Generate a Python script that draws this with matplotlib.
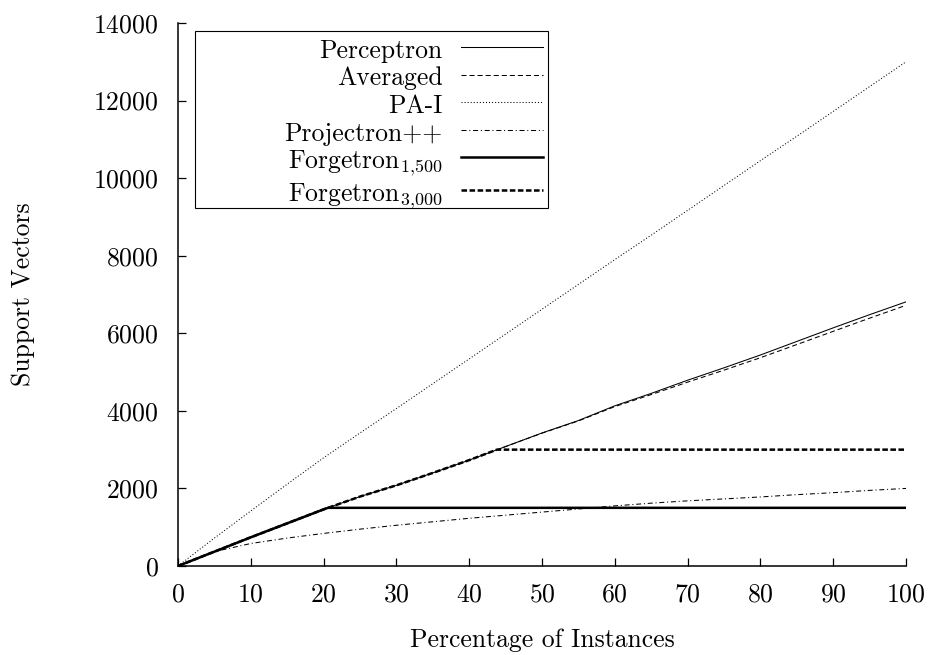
import matplotlib
matplotlib.use("Agg")
import matplotlib.pyplot as plt
from matplotlib.patches import Rectangle

plt.rcParams['font.family'] = 'serif'
plt.rcParams['font.serif'] = ['cmr10']
plt.rcParams['mathtext.fontset'] = 'cm'
plt.rcParams['axes.formatter.use_mathtext'] = True
plt.rcParams['lines.scale_dashes'] = False

# ---- data ----
pct = [0, 5, 10, 15, 20, 25, 30, 35, 40, 45, 50, 55, 60, 65, 70, 75, 80, 85, 90, 95, 100]
perceptron = [0, 370, 740, 1100, 1460, 1790, 2080, 2400, 2730, 3080, 3430, 3750, 4130, 4450,
              4790, 5110, 5440, 5790, 6140, 6480, 6810]
averaged = [0, 370, 740, 1100, 1460, 1790, 2080, 2400, 2730, 3080, 3425, 3740, 4110, 4420,
            4740, 5050, 5370, 5710, 6050, 6390, 6720]
pa_i = [0, 720, 1420, 2110, 2790, 3430, 4060, 4700, 5340, 5980, 6620, 7260, 7900, 8530,
        9170, 9810, 10450, 11080, 11720, 12360, 13000]
projectron = [0, 370, 580, 720, 840, 950, 1050, 1140, 1230, 1310, 1390, 1470, 1550, 1620,
              1680, 1730, 1780, 1840, 1890, 1950, 2000]
forg1500_x = [0, 5, 10, 15, 20, 20.6, 100]
forg1500 = [0, 370, 740, 1100, 1460, 1500, 1500]
forg3000_x = [0, 5, 10, 15, 20, 25, 30, 35, 40, 43.8, 100]
forg3000 = [0, 370, 740, 1100, 1460, 1790, 2080, 2400, 2730, 3000, 3000]

labels = ['Perceptron', 'Averaged', 'PA-I', 'Projectron++',
          r'Forgetron$_{1{,}500}$', r'Forgetron$_{3{,}000}$']
xticks = list(range(0, 101, 10))
yticks = list(range(0, 14001, 2000))

fig = plt.figure(figsize=(9.35, 6.55), dpi=100)
ax = fig.add_axes([178/935, 1-566/655, (906-178)/935, (566-23)/655])

ax.plot(pct, perceptron, color='black', lw=0.75, label=labels[0])
ax.plot(pct, averaged, color='black', lw=0.75, dashes=(3.6, 2.2), label=labels[1])
ax.plot(pct, pa_i, color='black', lw=0.75, dashes=(0.75, 1.45), label=labels[2])
ax.plot(pct, projectron, color='black', lw=0.75, dashes=(3.6, 2.0, 0.75, 2.0), label=labels[3])
ax.plot(forg1500_x, forg1500, color='black', lw=1.8, label=labels[4])
ax.plot(forg3000_x, forg3000, color='black', lw=1.8, dashes=(4.0, 1.8), label=labels[5])

ax.set_xlim(0, 100)
ax.set_ylim(0, 14000)
ax.set_xticks(xticks)
ax.set_yticks(yticks)
ax.spines['top'].set_visible(False)
ax.spines['right'].set_visible(False)
ax.spines['left'].set_linewidth(1.1)
ax.spines['bottom'].set_linewidth(1.1)
ax.tick_params(direction='in', length=6, width=0.9, labelsize=18.5)
ax.tick_params(axis='y', pad=14)
ax.tick_params(axis='x', pad=12)

ax.set_xlabel('Percentage of Instances', fontsize=18.5, labelpad=16)
ax.set_ylabel('Support Vectors', fontsize=18.5, labelpad=42)

# legend frame
x0 = (195-178)/728; x1 = (548-178)/728
y0 = (566-208)/543; y1 = (566-31)/543
ax.add_patch(Rectangle((x0, y0), x1-x0, y1-y0, transform=ax.transAxes,
                       fill=False, edgecolor='black', lw=0.8, zorder=5, clip_on=False))
leg = ax.legend(loc='upper right', bbox_to_anchor=(x1, y1), bbox_transform=ax.transAxes,
                frameon=False, markerfirst=False, fontsize=18.5, handlelength=3.2,
                handletextpad=0.7, borderpad=0.2, labelspacing=0.035, handleheight=1.18,
                borderaxespad=0)

fig.savefig('out.png', dpi=100)
